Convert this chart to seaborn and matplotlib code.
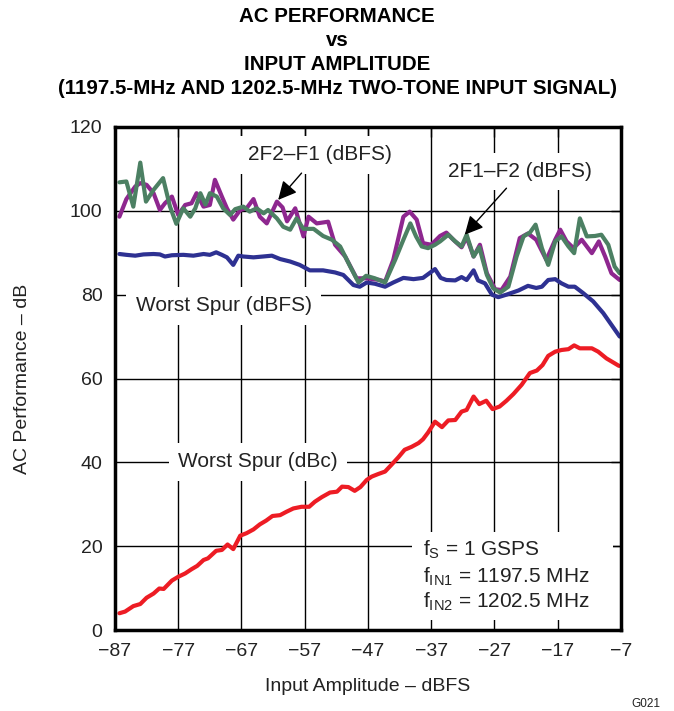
import numpy as np
import pandas as pd
import matplotlib
matplotlib.use("Agg")
import matplotlib.pyplot as plt
from matplotlib.patches import Rectangle
import seaborn as sns

# ---------------- data ----------------
dbc_x = [-86.3, -85.4, -84.1, -83.0, -82.0, -80.9, -80.0, -79.3, -78.0, -77.0, -75.9, -74.9, -74.0, -73.0,
         -72.3, -71.0, -70.1, -69.2, -68.3, -67.2, -66.2, -65.1, -64.1, -63.1, -62.1, -60.9, -59.9, -58.8,
         -57.5, -56.3, -55.4, -54.3, -53.0, -51.9, -51.1, -50.1, -49.1, -48.2, -47.2, -46.4, -45.4, -44.3,
         -43.3, -42.2, -41.2, -40.1, -39.0, -38.3, -37.5, -36.4, -35.3, -34.3, -33.2, -32.2, -31.4, -30.3,
         -29.4, -28.3, -27.3, -26.2, -25.1, -24.0, -22.7, -21.4, -20.3, -19.4, -18.5, -17.4, -16.4, -15.3,
         -14.4, -13.5, -11.6, -10.6, -9.3, -7.3]
dbc_y = [4.0, 4.4, 5.7, 6.2, 7.7, 8.7, 9.9, 9.8, 11.8, 12.7, 13.5, 14.5, 15.3, 16.7,
         17.1, 18.9, 19.1, 20.4, 19.3, 22.5, 23.1, 24.0, 25.2, 26.1, 27.2, 27.4, 28.2, 29.0,
         29.4, 29.4, 30.6, 31.7, 32.8, 33.0, 34.2, 34.1, 33.2, 34.1, 35.8, 36.6, 37.2, 37.8,
         39.4, 41.2, 43.0, 43.7, 44.6, 45.5, 47.1, 49.7, 48.4, 50.0, 50.1, 52.1, 52.5, 55.7,
         53.9, 54.7, 52.7, 53.3, 54.7, 56.3, 58.5, 61.3, 61.9, 63.2, 65.4, 66.4, 66.8, 67.0,
         67.9, 67.2, 67.2, 66.4, 64.8, 63.0]

dbfs_x = [-86.3, -85.2, -83.8, -82.5, -80.9, -79.9, -79.1, -78.0, -76.2, -74.6, -73.0, -72.0, -71.0, -70.1,
          -69.3, -68.3, -67.5, -66.7, -65.1, -63.6, -62.2, -60.9, -59.3, -57.8, -56.2, -54.1, -52.2, -50.9,
          -49.3, -48.3, -47.2, -45.9, -44.3, -43.0, -41.4, -39.8, -38.3, -36.4, -35.5, -34.6, -33.2, -32.2,
          -31.4, -30.3, -29.6, -28.5, -27.4, -26.4, -25.1, -23.2, -21.7, -20.4, -19.5, -18.5, -17.4, -16.4,
          -15.3, -14.3, -13.0, -11.4, -9.8, -8.5, -7.2]
dbfs_y = [89.7, 89.5, 89.3, 89.6, 89.7, 89.6, 89.1, 89.4, 89.5, 89.3, 89.7, 89.5, 90.1, 89.5,
          88.9, 87.1, 89.3, 89.1, 88.9, 89.1, 89.3, 88.5, 87.9, 87.1, 85.8, 85.8, 85.3, 84.7,
          82.3, 81.9, 82.9, 82.6, 81.9, 82.9, 84.0, 83.7, 84.0, 86.1, 84.0, 83.5, 83.4, 84.2,
          83.5, 85.8, 83.4, 82.7, 80.0, 79.4, 80.0, 81.0, 82.1, 81.6, 81.9, 83.5, 83.7, 82.7,
          81.9, 81.9, 80.4, 78.4, 75.6, 72.8, 70.0]

f2f1_x = [-86.3, -85.2, -83.8, -83.0, -82.0, -80.9, -79.9, -79.1, -78.0, -77.0, -75.9, -74.9, -74.1, -73.0,
          -72.0, -71.2, -70.1, -69.3, -68.3, -67.2, -66.2, -65.1, -64.1, -63.0, -61.4, -60.5, -59.8, -58.5,
          -57.2, -56.4, -55.1, -53.3, -52.2, -50.6, -48.8, -47.2, -45.1, -44.3, -43.0, -41.4, -40.4, -39.3,
          -38.3, -37.0, -35.6, -34.6, -33.5, -32.2, -31.4, -30.3, -29.3, -28.2, -26.9, -25.9, -24.5, -23.0,
          -21.7, -20.4, -18.8, -17.4, -16.6, -15.6, -14.5, -13.2, -11.6, -10.5, -9.5, -8.5, -7.2]
f2f1_y = [98.6, 102.8, 105.8, 106.6, 106.2, 104.2, 100.2, 101.8, 103.4, 99.0, 101.4, 101.8, 104.2, 101.0,
          101.4, 107.4, 103.4, 100.6, 97.9, 100.2, 100.6, 102.8, 98.6, 97.0, 102.2, 100.8, 97.5, 100.6,
          93.9, 98.6, 97.0, 97.4, 91.9, 89.1, 83.9, 83.9, 83.5, 83.1, 88.3, 98.6, 99.8, 97.9,
          92.3, 91.9, 94.0, 94.8, 93.1, 91.3, 93.7, 89.1, 91.9, 85.1, 81.3, 81.1, 84.3, 93.5,
          94.6, 93.1, 88.3, 93.1, 95.5, 92.7, 91.1, 93.1, 89.9, 92.7, 89.1, 85.1, 83.5]

f1f2_x = [-86.3, -85.2, -84.1, -83.0, -82.1, -80.9, -79.4, -78.3, -77.3, -76.2, -75.1, -74.3, -73.5, -72.7,
          -72.0, -70.9, -69.9, -68.8, -68.0, -66.7, -65.7, -64.6, -63.5, -62.8, -61.4, -60.4, -59.3, -58.3,
          -57.2, -55.6, -54.1, -52.7, -51.4, -49.8, -48.5, -47.3, -45.9, -44.3, -42.7, -41.4, -40.3, -39.4,
          -38.5, -37.5, -36.4, -35.6, -34.3, -33.2, -32.2, -31.4, -30.3, -29.4, -28.2, -27.2, -26.1, -24.8,
          -23.5, -22.4, -21.4, -20.5, -19.5, -18.5, -17.4, -16.4, -15.3, -14.4, -13.5, -12.4, -11.1, -10.1,
          -9.0, -8.0, -7.2]
f1f2_y = [106.8, 107.0, 101.0, 111.5, 102.2, 105.0, 107.8, 101.0, 96.9, 100.6, 98.6, 100.6, 104.2, 101.5,
          104.2, 103.4, 100.6, 99.0, 100.4, 101.0, 99.8, 100.6, 99.4, 100.2, 98.2, 96.2, 95.5, 98.2,
          95.7, 95.7, 94.0, 93.1, 91.5, 86.7, 82.9, 84.5, 83.9, 82.9, 88.3, 93.1, 97.0, 93.9,
          91.5, 91.1, 91.9, 92.7, 94.3, 92.7, 91.5, 94.3, 89.1, 91.3, 84.7, 81.5, 80.5, 81.9,
          89.1, 93.9, 94.8, 96.7, 91.1, 87.1, 92.7, 93.9, 91.5, 89.9, 98.2, 93.9, 94.0, 94.3,
          91.9, 86.7, 85.1]

x_ticks = [-87, -77, -67, -57, -47, -37, -27, -17, -7]
y_ticks = [0, 20, 40, 60, 80, 100, 120]

series_names = ["Worst Spur (dBc)", "Worst Spur (dBFS)", "2F2\u2013F1 (dBFS)", "2F1\u2013F2 (dBFS)"]
series_colors = ["#ED1C24", "#2E3192", "#8E278F", "#4C8063"]

title_lines = ["AC PERFORMANCE", "vs", "INPUT AMPLITUDE",
               "(1197.5-MHz AND 1202.5-MHz TWO-TONE INPUT SIGNAL)"]

frames = []
for name, xs, ys in zip(series_names,
                        [dbc_x, dbfs_x, f2f1_x, f1f2_x],
                        [dbc_y, dbfs_y, f2f1_y, f1f2_y]):
    frames.append(pd.DataFrame({"x": xs, "y": ys, "series": name}))
df = pd.concat(frames, ignore_index=True)

# ---------------- style ----------------
sns.set_theme(style="white")
plt.rcParams["font.family"] = ["Liberation Sans", "DejaVu Sans"]
plt.rcParams["mathtext.fontset"] = "custom"
plt.rcParams["mathtext.rm"] = "Liberation Sans"
plt.rcParams["mathtext.it"] = "Liberation Sans"
plt.rcParams["mathtext.default"] = "regular"

fig = plt.figure(figsize=(6.74, 7.11), dpi=100)
ax = fig.add_axes([0.1706, 0.1139, 0.7507, 0.7075])

sns.lineplot(data=df, x="x", y="y", hue="series", hue_order=series_names,
             palette=dict(zip(series_names, series_colors)), sort=False,
             estimator=None, linewidth=3.0, legend=False, ax=ax, zorder=3)

ax.set_xlim(-87, -7)
ax.set_ylim(0, 120)
ax.set_xticks(x_ticks)
ax.set_yticks(y_ticks)
ax.grid(True, color="black", linewidth=1.0)
ax.set_axisbelow(True)
for sp in ax.spines.values():
    sp.set_visible(True)
    sp.set_color("black")
    sp.set_linewidth(2.5)
    sp.set_zorder(5)
ax.tick_params(direction="in", length=7, width=1, labelsize=14, color="black",
               labelcolor="#222222", top=True, right=True, pad=9)
ax.set_xlabel("Input Amplitude \u2013 dBFS", fontsize=14, color="#222222")
ax.set_ylabel("AC Performance \u2013 dB", fontsize=14, color="#222222")
ax.xaxis.set_label_coords(0.5, -0.095)
ax.yaxis.set_label_coords(-0.165, 0.5)

box = dict(boxstyle="square,pad=0.45", facecolor="white", edgecolor="none")
ax.text(-69.8, 77.3, "Worst Spur (dBFS)", fontsize=15, ha="center", va="center",
        color="#222222", bbox=box, zorder=1.5)
ax.text(-64.4, 40.1, "Worst Spur (dBc)", fontsize=15, ha="center", va="center",
        color="#222222", bbox=box, zorder=1.5)

arrow = dict(arrowstyle="-|>", color="black", lw=1.0, mutation_scale=28, shrinkA=0, shrinkB=0)
ax.annotate("", xy=(-61.2, 102.6), xytext=(-57.5, 109.0), arrowprops=arrow, zorder=4)
ax.text(-54.6, 113.4, "2F2\u2013F1 (dBFS)", fontsize=15, ha="center", va="center",
        color="#222222", bbox=box, zorder=1.5)
ax.annotate("", xy=(-31.7, 94.3), xytext=(-25.1, 105.4), arrowprops=arrow, zorder=4)
ax.text(-23.0, 109.4, "2F1\u2013F2 (dBFS)", fontsize=15, ha="center", va="center",
        color="#222222", bbox=box, zorder=1.5)

ax.add_patch(Rectangle((-40.0, 2.4), 31.7, 21.0, facecolor="white", edgecolor="none", zorder=1.5))
ax.text(-38.3, 19.1, r"f$_{\mathrm{S}}$ = 1 GSPS", fontsize=15, ha="left", va="center", color="#222222", zorder=2)
ax.text(-38.3, 12.6, r"f$_{\mathrm{IN1}}$ = 1197.5 MHz", fontsize=15, ha="left", va="center", color="#222222", zorder=2)
ax.text(-38.3, 6.7, r"f$_{\mathrm{IN2}}$ = 1202.5 MHz", fontsize=15, ha="left", va="center", color="#222222", zorder=2)

for line, ypx in zip(title_lines, [17, 40, 64, 88]):
    fig.text(0.5, 1 - ypx / 711, line, ha="center", va="center", fontsize=14.8,
             fontweight="bold", color="black")
fig.text(646 / 674, 1 - 704 / 711, "G021", fontsize=8.5, ha="center", va="center", color="#222222")

fig.savefig("out.png", dpi=100)
